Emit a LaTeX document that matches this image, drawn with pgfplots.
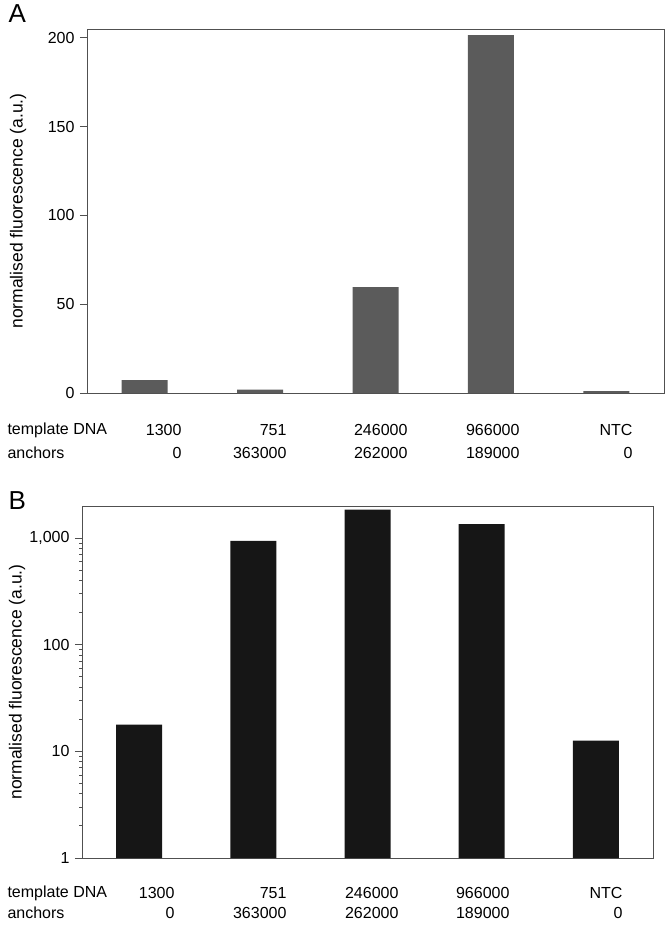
\documentclass[border=0pt]{standalone}
\usepackage{pgfplots}
\pgfplotsset{compat=1.18}
\usepackage{fontspec}
\setmainfont{Liberation Sans}
\definecolor{barA}{HTML}{5B5B5B}
\definecolor{barB}{HTML}{161616}
\definecolor{frame}{HTML}{505050}
\begin{document}
\begin{tikzpicture}
\useasboundingbox (0,0) rectangle (667bp,-925bp);
\pgfplotsset{
  myaxis/.style={
    scale only axis,
    anchor=north west,
    xmin=-0.5, xmax=4.5,
    xtick=\empty,
    axis line style={frame, line width=0.9bp},
    ytick style={frame, line width=0.9bp},
    tick align=outside,
    major tick length=7bp,
    ytick pos=left,
    yticklabel style={font=\fontsize{16bp}{19bp}\selectfont, xshift=-2bp},
    /pgf/number format/assume math mode=true,
    ylabel={normalised fluorescence (a.u.)},
    clip=false,
  }
}
% Panel A
\begin{axis}[myaxis,
  at={(87bp,-29bp)}, width=577bp, height=364bp,
  ymin=0, ymax=205,
  ytick={0,50,100,150,200},
  ybar, bar width=46bp,
  every axis y label/.style={at={(axis description cs:0,0.5)}, xshift=-69bp, rotate=90, anchor=center, font=\fontsize{17.5bp}{20bp}\selectfont},
]
\addplot[fill=barA, draw=none] coordinates {(0,7.2) (1,1.9) (2,59.7) (3,201.5) (4,1.1)};
\end{axis}
% Panel B
\begin{axis}[myaxis,
  at={(82bp,-506bp)}, width=571bp, height=352bp,
  ymode=log, ymin=1, ymax=2000,
  ytick={1,10,100,1000},
  yticklabels={1,10,100,{1,000}},
  minor ytick={},
  log origin=infty,
  ybar, bar width=46bp,
  every axis y label/.style={at={(axis description cs:0,0.5)}, xshift=-65bp, rotate=90, anchor=center, font=\fontsize{17.5bp}{20bp}\selectfont},
]
\addplot[fill=barB, draw=none] coordinates {(0,17.8) (1,940) (2,1850) (3,1350) (4,12.6)};
\end{axis}
% panel letters
\node[anchor=west, font=\fontsize{26bp}{30bp}\selectfont] at (5bp,-14bp) {A};
\node[anchor=west, font=\fontsize{26bp}{30bp}\selectfont] at (5bp,-501bp) {B};
% table rows
\begin{scope}[every node/.style={font=\fontsize{16bp}{19bp}\selectfont}]
\node[anchor=west] at (4bp,-430bp) {template DNA};
\node[anchor=west] at (4bp,-453bp) {anchors};
\node[anchor=east] at (185bp,-430bp) {1300};
\node[anchor=east] at (290bp,-430bp) {751};
\node[anchor=east] at (411bp,-430bp) {246000};
\node[anchor=east] at (523bp,-430bp) {966000};
\node[anchor=east] at (636bp,-430bp) {NTC};
\node[anchor=east] at (185bp,-453bp) {0};
\node[anchor=east] at (290bp,-453bp) {363000};
\node[anchor=east] at (411bp,-453bp) {262000};
\node[anchor=east] at (523bp,-453bp) {189000};
\node[anchor=east] at (636bp,-453bp) {0};
\node[anchor=west] at (4bp,-893bp) {template DNA};
\node[anchor=west] at (4bp,-913bp) {anchors};
\node[anchor=east] at (178bp,-893bp) {1300};
\node[anchor=east] at (290bp,-893bp) {751};
\node[anchor=east] at (402bp,-893bp) {246000};
\node[anchor=east] at (513bp,-893bp) {966000};
\node[anchor=east] at (626bp,-893bp) {NTC};
\node[anchor=east] at (178bp,-913bp) {0};
\node[anchor=east] at (290bp,-913bp) {363000};
\node[anchor=east] at (402bp,-913bp) {262000};
\node[anchor=east] at (513bp,-913bp) {189000};
\node[anchor=east] at (626bp,-913bp) {0};
\end{scope}
\end{tikzpicture}
\end{document}
